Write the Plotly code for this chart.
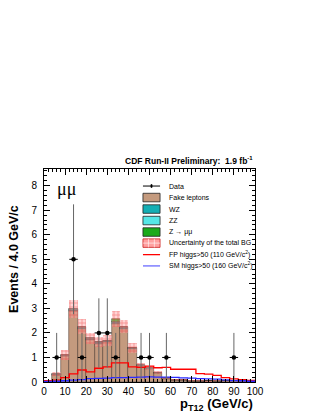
import numpy as np
import plotly.graph_objects as go

# binning: 4 GeV/c bins from 0 to 100
bin_edges = list(range(0, 101, 4))
bin_centers = [e + 2 for e in bin_edges[:-1]]

# stacked backgrounds (events per bin)
fake_leptons = [0.05, 0.29, 1.05, 2.90, 2.18, 1.71, 1.56, 1.61, 2.38, 2.17, 1.34, 0.64, 0.52, 0.35, 0.13,
                0.07, 0.09, 0.05, 0.04, 0.03, 0.04, 0.02, 0.02, 0.01, 0.01]
wz = [0.00, 0.01, 0.03, 0.04, 0.04, 0.05, 0.05, 0.05, 0.05, 0.04, 0.04, 0.03, 0.03, 0.02, 0.02,
      0.02, 0.01, 0.01, 0.01, 0.01, 0.01, 0.01, 0.00, 0.00, 0.00]
zz = [0.00, 0.01, 0.02, 0.03, 0.01, 0.02, 0.01, 0.02, 0.01, 0.02, 0.02, 0.02, 0.01, 0.01, 0.00,
      0.01, 0.00, 0.00, 0.00, 0.00, 0.00, 0.00, 0.01, 0.01, 0.01]
z_mumu = [0.00, 0.00, 0.00, 0.00, 0.03, 0.00, 0.00, 0.00, 0.12, 0.03, 0.00, 0.00, 0.00, 0.00, 0.00,
          0.00, 0.00, 0.00, 0.00, 0.00, 0.00, 0.00, 0.00, 0.00, 0.00]
bg_uncert = [0.03, 0.08, 0.20, 0.38, 0.30, 0.22, 0.20, 0.22, 0.32, 0.28, 0.20, 0.10, 0.08, 0.06, 0.04,
             0.03, 0.03, 0.03, 0.02, 0.02, 0.02, 0.01, 0.01, 0.01, 0.01]

# signal expectations
fp_higgs = [0.05, 0.08, 0.18, 0.33, 0.49, 0.41, 0.56, 0.62, 0.78, 0.78, 0.62, 0.60, 0.65, 0.58, 0.60,
            0.52, 0.52, 0.52, 0.34, 0.32, 0.27, 0.18, 0.13, 0.10, 0.07]
sm_higgs = [0.02, 0.03, 0.05, 0.08, 0.10, 0.14, 0.15, 0.16, 0.18, 0.18, 0.19, 0.20, 0.21, 0.20, 0.20,
            0.19, 0.17, 0.16, 0.14, 0.13, 0.12, 0.09, 0.06, 0.05, 0.03]

# observed data
data_x = [6, 14, 18, 26, 30, 34, 46, 50, 58, 90]
data_y = [1, 5, 1, 2, 2, 1, 1, 1, 1, 1]
data_err = [1.0, 2.24, 1.0, 1.41, 1.41, 1.0, 1.0, 1.0, 1.0, 1.0]

FONT = "Liberation Sans, Arial, Helvetica, sans-serif"

fake_a = np.array(fake_leptons)
wz_a = np.array(wz)
zz_a = np.array(zz)
zmm_a = np.array(z_mumu)
total = fake_a + wz_a + zz_a + zmm_a
unc = np.array(bg_uncert)

fig = go.Figure()

stack = [
    ("Fake leptons", fake_a, "#c49a7e", np.zeros_like(fake_a)),
    ("WZ", wz_a, "#14aeb4", fake_a),
    ("ZZ", zz_a, "#55e6e6", fake_a + wz_a),
    ("Z→μμ", zmm_a, "#1aaa1a", fake_a + wz_a + zz_a),
]
for name, vals, col, base in stack:
    fig.add_trace(go.Bar(x=bin_centers, y=vals, base=base, width=4, name=name,
                         marker=dict(color=col, line=dict(color="rgba(70,50,40,0.85)", width=0.6)),
                         showlegend=False))

# uncertainty band on the total background
fig.add_trace(go.Bar(x=bin_centers, y=2 * unc, base=total - unc, width=4,
                     marker=dict(color="rgba(255,120,120,0.55)", line=dict(width=0),
                                 pattern=dict(shape="+", fgcolor="rgba(230,20,20,0.8)",
                                              bgcolor="rgba(255,160,160,0.45)", size=4, solidity=0.35)),
                     showlegend=False))

# signal step lines
fig.add_trace(go.Scatter(x=bin_edges, y=fp_higgs + [fp_higgs[-1]], mode="lines", line_shape="hv",
                         line=dict(color="#ff0000", width=1.3), showlegend=False))
fig.add_trace(go.Scatter(x=bin_edges, y=sm_higgs + [sm_higgs[-1]], mode="lines", line_shape="hv",
                         line=dict(color="#2a2aff", width=1.3), showlegend=False))

# data
fig.add_trace(go.Scatter(x=data_x, y=data_y, mode="markers",
                         marker=dict(color="black", size=4.5),
                         error_y=dict(type="data", array=data_err, color="#666666", thickness=1, width=0),
                         error_x=dict(type="constant", value=2, color="black", thickness=1, width=0),
                         showlegend=False))

axis_common = dict(showline=True, linecolor="black", linewidth=1, mirror="ticks", ticks="inside",
                   tickcolor="black", showgrid=False, zeroline=False,
                   tickfont=dict(family=FONT, size=10, color="black"))
fig.update_xaxes(range=[0, 100], dtick=10, ticklen=6,
                 minor=dict(dtick=2, ticks="inside", ticklen=3, tickcolor="black"), **axis_common)
fig.update_yaxes(range=[0, 8.68], dtick=1, ticklen=6, ticklabelstandoff=4,
                 minor=dict(dtick=0.2, ticks="inside", ticklen=3, tickcolor="black"), **axis_common)

annotations = [
    dict(text="<b>CDF Run-II Preliminary:  1.9 fb<sup>-1</sup></b>", xref="paper", yref="paper",
         x=1.0, y=1.038, xanchor="right", yanchor="middle", showarrow=False,
         font=dict(family=FONT, size=8.5, color="black")),
    dict(text="<b>Events / 4.0 GeV/c</b>", xref="paper", yref="paper", x=-0.14, y=0.58,
         textangle=-90, xanchor="center", yanchor="middle", showarrow=False,
         font=dict(family=FONT, size=12.5, color="black")),
    dict(text="<b>p<sub>T12</sub> (GeV/c)</b>", xref="paper", yref="paper", x=1.0, y=-0.105,
         xanchor="right", yanchor="middle", showarrow=False,
         font=dict(family=FONT, size=13, color="black")),
    dict(text="μμ", xref="paper", yref="paper", x=0.05, y=0.905, xanchor="left", yanchor="middle",
         showarrow=False, font=dict(family="Liberation Serif, serif", size=18, color="black")),
]

# legend drawn by hand
legend_rows = ["Data", "Fake leptons", "WZ", "ZZ", "Z → μμ", "Uncertainty of the total BG",
               "FP higgs>50 (110 GeV/c<sup>2</sup>)", "SM higgs>50 (160 GeV/c<sup>2</sup>)"]
legend_y = [0.920, 0.866, 0.812, 0.758, 0.704, 0.652, 0.598, 0.545]
box_cols = [None, "#c49a7e", "#14aeb4", "#55e6e6", "#1aaa1a", "#ffa0a0", None, None]
sx0, sx1, tx = 0.469, 0.550, 0.583
shapes = []
for i, (lab, ly) in enumerate(zip(legend_rows, legend_y)):
    annotations.append(dict(text=lab, xref="paper", yref="paper", x=tx, y=ly, xanchor="left",
                            yanchor="middle", showarrow=False,
                            font=dict(family=FONT, size=7, color="black")))
    if i == 0:
        shapes.append(dict(type="line", xref="paper", yref="paper", x0=sx0, x1=sx1, y0=ly, y1=ly,
                           line=dict(color="black", width=1)))
        shapes.append(dict(type="circle", xref="paper", yref="paper", x0=0.5045, x1=0.5145,
                           y0=ly - 0.0095, y1=ly + 0.0095, fillcolor="black", line=dict(width=0)))
    elif i == 6:
        shapes.append(dict(type="line", xref="paper", yref="paper", x0=sx0, x1=sx1, y0=ly, y1=ly,
                           line=dict(color="#ff0000", width=1.3)))
    elif i == 7:
        shapes.append(dict(type="line", xref="paper", yref="paper", x0=sx0, x1=sx1, y0=ly, y1=ly,
                           line=dict(color="#6b6bff", width=1.3)))
    else:
        shapes.append(dict(type="rect", xref="paper", yref="paper", x0=sx0, x1=sx1,
                           y0=ly - 0.02, y1=ly + 0.02, fillcolor=box_cols[i],
                           line=dict(color="#222222" if i != 5 else "#cc2020", width=0.8)))
        if i == 5:
            for fx in [0.495, 0.523]:
                shapes.append(dict(type="line", xref="paper", yref="paper", x0=fx, x1=fx,
                                   y0=ly - 0.02, y1=ly + 0.02, line=dict(color="white", width=0.6)))
            shapes.append(dict(type="line", xref="paper", yref="paper", x0=sx0, x1=sx1,
                               y0=ly, y1=ly, line=dict(color="white", width=0.6)))

# page body adds an 8px margin, so the figure is 8px smaller and margins are shifted
fig.update_layout(width=312, height=406, barmode="overlay", bargap=0,
                  margin=dict(l=36, r=65, t=161, b=32),
                  paper_bgcolor="white", plot_bgcolor="white",
                  font=dict(family=FONT, color="black"),
                  annotations=annotations, shapes=shapes)

fig.write_html("out.html")
